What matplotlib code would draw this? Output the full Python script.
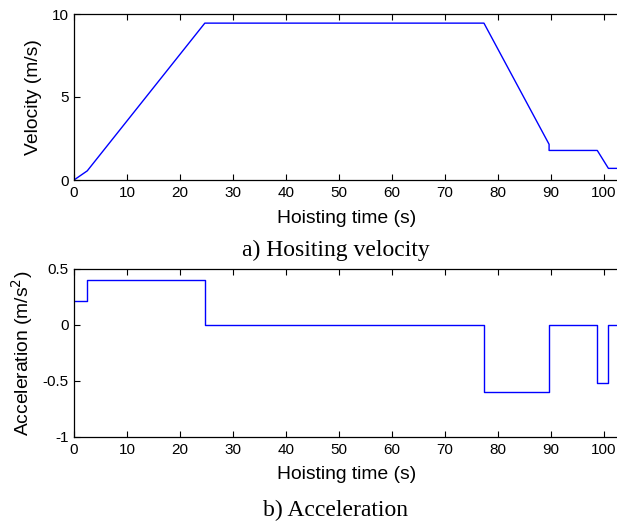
import matplotlib.pyplot as plt

plt.rcParams['font.family'] = ['Liberation Sans', 'DejaVu Sans']

# hoisting velocity profile (breakpoints)
t_vel = [0, 2.5, 24.7, 77.4, 89.7, 89.7, 98.8, 100.9, 102.6]
vel = [0, 0.55, 9.45, 9.45, 2.15, 1.78, 1.78, 0.70, 0.70]

# acceleration steps (value held from each time until the next)
t_acc = [0, 2.5, 24.7, 77.4, 89.7, 98.8, 100.9, 102.6]
acc = [0.21, 0.40, 0.0, -0.60, 0.0, -0.52, 0.0, 0.0]

W, H = 617, 522
fig = plt.figure(figsize=(W / 100, H / 100), dpi=100)

ax1 = fig.add_axes([74 / W, 1 - 180 / H, 545 / W, 166 / H])
ax2 = fig.add_axes([74 / W, 1 - 437 / H, 545 / W, 168 / H])

ax1.plot(t_vel, vel, color='b', lw=1)
ax1.set_ylim(0, 10)
ax1.set_yticks([0, 5, 10])
ax1.set_ylabel('Velocity (m/s)', fontsize=13.9, va='center')
ax1.yaxis.set_label_coords(-0.075, 0.5)

ax2.step(t_acc, acc, where='post', color='b', lw=1)
ax2.set_ylim(-1, 0.5)
ax2.set_yticks([-1, -0.5, 0, 0.5])
ax2.set_yticklabels(['-1', '-0.5', '0', '0.5'])
ax2.set_ylabel('Acceleration (m/s$^2$)', fontsize=13.9, va='center')
ax2.yaxis.set_label_coords(-0.095, 0.5)

for ax in (ax1, ax2):
    ax.set_xlim(0, 102.9)
    ax.set_xticks(range(0, 101, 10))
    ax.set_xlabel('Hoisting time (s)', fontsize=13.9, va='center')
    ax.tick_params(direction='in', top=True, right=False, labelsize=11,
                   length=4, width=0.8, pad=4)
    for s in ax.spines.values():
        s.set_linewidth(0.9)
ax1.xaxis.set_label_coords(0.5, -0.229)
ax2.xaxis.set_label_coords(0.5, -0.226)

fig.text(336 / W, 1 - 250 / H, 'a) Hositing velocity', ha='center', va='center',
         family='Liberation Serif', fontsize=17)
fig.text(336 / W, 1 - 510 / H, 'b) Acceleration', ha='center', va='center',
         family='Liberation Serif', fontsize=17)

fig.savefig('out.png', dpi=100)
